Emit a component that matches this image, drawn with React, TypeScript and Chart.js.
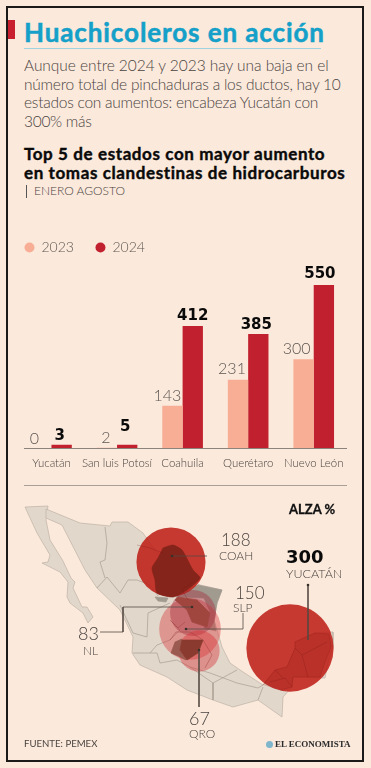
import React, { useEffect, useRef } from "react";
import { Chart, registerables } from "chart.js";
Chart.register(...registerables);

const BG = "#fbe9dc";
const categories = ["Yucatán", "San luis Potosí", "Coahuila", "Querétaro", "Nuevo León"];
const values2023 = [0, 2, 143, 231, 300];
const values2024 = [3, 5, 412, 385, 550];
const labelShift2023 = [[-7, 9], [-1, 10], [-5, 10.5], [-6, 11], [-7, 10]];
const labelShift2024 = [[-2, 9], [-2, 17.5], [0, 10], [-2, 9], [-4, 11]];

const rises = [300, 188, 150, 83, 67];
const riseX = [290, 171, 190, 193, 199];
const riseY = [648, 562, 629, 613, 651];
const riseColors = ["rgba(190,32,24,0.88)", "rgba(190,32,24,0.88)", "rgba(218,60,62,0.42)", "rgba(165,40,60,0.4)", "rgba(218,48,52,0.42)"];

type P = [number, number];
const baja: P[] = [[25,507],[48,506],[46,520],[50,540],[63,561],[71,578],[75,582],[73,588],[82,607],[87,607],[93,617],[88,623],[83,613],[70,603],[67,597],[68,582],[60,572],[42,563],[48,562],[50,555],[37,533],[25,507]];
const mainland: P[] = [[46,509],[80,523],[110,526],[112,522],[128,522],[143,533],[155,550],[166,560],[180,575],[200,585],[222,590],[217,603],[214,620],[218,633],[222,647],[230,663],[243,672],[263,685],[275,670],[287,667],[295,648],[295,642],[315,633],[333,632],[333,647],[328,662],[325,678],[293,677],[292,687],[283,697],[282,717],[258,700],[233,707],[213,700],[187,690],[167,677],[140,665],[132,653],[133,637],[120,610],[97,588],[85,570],[62,525],[46,518],[46,509]];
const tamaulipas: P[] = [[198,585],[222,590],[217,603],[214,620],[216,631],[204,628],[210,612],[204,598],[176,597],[198,585]];
const coahFoot: P[] = [[155,597],[168,598],[166,602],[158,601],[155,597]];
const nuevoLeon: P[] = [[178,597],[197,600],[210,613],[207,627],[192,622],[187,610],[175,600],[178,597]];
const guanajuato: P[] = [[175,642],[182,639],[180,650],[186,660],[178,656],[171,653],[175,642]];
const queretaro: P[] = [[182,640],[203,640],[198,653],[187,660],[180,650],[182,640]];
const coahuila: P[] = [[163,548],[173,545],[182,550],[193,570],[200,578],[187,590],[173,597],[157,593],[155,580],[152,568],[158,558],[163,548]];
const peninsula: P[] = [[263,685],[275,670],[287,667],[295,648],[295,642],[315,633],[329,634],[331,647],[325,662],[320,677],[293,677],[292,687],[280,690]];
const borders: P[][] = [
  [[105,527],[107,543],[105,560],[100,562],[105,578]],
  [[97,588],[107,577],[120,593],[128,580],[137,580],[150,585],[158,596]],
  [[120,605],[133,633],[147,637],[148,613],[170,603]],
  [[133,653],[157,653],[160,663],[177,660],[190,667],[213,683],[213,700]],
  [[172,622],[180,630],[170,640],[157,645],[150,653]],
  [[190,667],[210,673],[237,683],[258,688],[263,685]],
  [[213,683],[237,670]],
  [[263,687],[258,700]],
];
const innerBorders: P[][] = [
  [[295,648],[302,655],[308,677]],
  [[302,655],[327,642]],
  [[270,682],[285,678],[292,687]],
  [[275,670],[283,678]],
  [[137,545],[150,548],[163,553]],
  [[193,582],[182,590],[188,600]],
];
const pinkBorders: P[][] = [
  [[170,620],[178,628],[185,622]],
  [[170,640],[176,632],[190,632],[203,640]],
  [[203,640],[212,655],[205,668]],
];
const leaders: P[][] = [
  [[308,585],[308,640]],
  [[172,556],[207,556]],
  [[192,607],[123,607],[123,632],[100,632]],
  [[186,629],[243,629],[243,613]],
  [[199,650],[199,707]],
];

const pts = (a: P[]) => a.map(([x, y]) => ({ x, y }));
const shape = (a: P[], fill: string, order: number, border = "#bdb2a5") => ({
  type: "line", data: pts(a), fill: "shape", backgroundColor: fill, borderColor: border,
  borderWidth: 0.7, pointRadius: 0, tension: 0, order,
});
const stroke = (a: P[], color: string, order: number) => ({
  type: "line", data: pts(a), borderColor: color, borderWidth: 0.7, pointRadius: 0, fill: false, order,
});

const T = ({ x, y, s, w = 300, c = "#4a443f", ls = 0, f = "Lato", st = 0, children }: any) => (
  <div style={{ position: "absolute", left: x, top: y, transform: "translateY(-50%)", font: `${w} ${s}px ${f}`, color: c, letterSpacing: ls, whiteSpace: "nowrap", lineHeight: 1, WebkitTextStroke: st ? `${st}px ${c}` : undefined }}>{children}</div>
);
const Rule = ({ x, y, w, h = 1, c }: any) => <div style={{ position: "absolute", left: x, top: y, width: w, height: h, background: c }} />;

const barLabels = {
  id: "barLabels",
  afterDatasetsDraw(chart: any) {
    const ctx = chart.ctx;
    ctx.save();
    ctx.textAlign = "center";
    ctx.textBaseline = "middle";
    chart.data.datasets.forEach((ds: any, i: number) => {
      chart.getDatasetMeta(i).data.forEach((el: any, j: number) => {
        const [dx, dy] = (i === 0 ? labelShift2023 : labelShift2024)[j];
        ctx.font = i === 0 ? "300 16px Lato" : "700 15px 'DejaVu Sans'";
        ctx.fillStyle = i === 0 ? "#5c5650" : "#0a0a0a";
        ctx.fillText(String(ds.data[j]), el.x + dx, el.y - dy);
      });
    });
    ctx.restore();
  },
};

export default function App() {
  const barRef = useRef<HTMLCanvasElement>(null);
  const mapRef = useRef<HTMLCanvasElement>(null);
  useEffect(() => {
    const bar = new Chart(barRef.current!, {
      type: "bar",
      data: {
        labels: categories,
        datasets: [
          { label: "2023", data: values2023, backgroundColor: "#f8ae95", categoryPercentage: 0.62, barPercentage: 1 },
          { label: "2024", data: values2024, backgroundColor: "#c1212e", categoryPercentage: 0.62, barPercentage: 1, minBarLength: 3.5 },
        ],
      } as any,
      options: {
        responsive: false, animation: false,
        layout: { padding: { left: 0, right: 24.5, top: 0, bottom: 0 } },
        plugins: {
          tooltip: { enabled: false },
          legend: {
            position: "top", align: "start",
            labels: { usePointStyle: true, pointStyle: "circle", boxHeight: 7, pointStyleWidth: 10, padding: 21.5, color: "#5c5650", font: { family: "Lato", size: 14, weight: "300" } },
          },
        },
        scales: {
          x: { grid: { display: false }, border: { display: false }, ticks: { padding: 0, color: "#4a443f", maxRotation: 0, autoSkip: false, font: { family: "Lato", size: 11.4, weight: "300" } } },
          y: {
            min: 0, max: 619, grid: { display: false }, border: { display: false }, ticks: { display: false },
            afterFit: (s: any) => { s.width = 15.7; },
          },
        },
      } as any,
      plugins: [barLabels],
    });
    const map = new Chart(mapRef.current!, {
      type: "line",
      data: {
        datasets: [
          ...leaders.map((l) => ({ type: "line", data: pts(l), borderColor: "#544a43", borderWidth: 0.8, pointRadius: (c: any) => (c.dataIndex === 0 ? 1.3 : 0), pointBackgroundColor: "#3a302a", pointBorderWidth: 0, fill: false, order: 0 })),
          ...innerBorders.map((l) => stroke(l, "rgba(115,22,16,0.35)", 0.5)),
          ...pinkBorders.map((l) => stroke(l, "rgba(150,60,55,0.6)", 0.5)),
          { ...shape(coahuila, "#85241a", 0.7, "#85241a"), tension: 0.2 },
          shape(queretaro, "#8a3a2e", 0.7, "#8a3a2e"),
          shape(guanajuato, "#9a5a50", 0.7, "#9a5a50"),
          shape(nuevoLeon, "#a0463f", 0.7, "#a0463f"),
          shape(peninsula, "rgba(150,25,20,0.18)", 0.8, "rgba(115,22,16,0.3)"),
          {
            type: "bubble",
            data: rises.map((v, i) => ({ x: riseX[i], y: riseY[i], r: 2.52 * Math.sqrt(v) })),
            backgroundColor: riseColors, borderWidth: 0, order: 1,
          },
          ...borders.map((l) => stroke(l, "#a99e91", 2)),
          shape(coahFoot, "#a19a8e", 3, "#a19a8e"),
          shape(tamaulipas, "#a19a8e", 3, "#a19a8e"),
          shape(mainland, "#e1d7cb", 4),
          shape(baja, "#e1d7cb", 4),
        ],
      } as any,
      options: {
        responsive: false, animation: false,
        layout: { padding: 0, autoPadding: false },
        plugins: { legend: { display: false }, tooltip: { enabled: false } },
        scales: {
          x: { type: "linear", display: false, min: 0, max: 371 },
          y: { type: "linear", display: false, min: 490, max: 768, reverse: true },
        },
      } as any,
    });
    return () => { bar.destroy(); map.destroy(); };
  }, []);
  return (
    <div style={{ position: "absolute", left: 0, top: 0, width: 371, height: 768, background: BG, overflow: "hidden" }}>
      <style>{`body{margin:0;background:${BG}}`}</style>
      <div style={{ position: "absolute", left: 6, top: 6, width: 354, height: 752, border: "2px solid #1b1a19" }} />
      <Rule x={8} y={20} w={7} h={19} c="#c8202f" />
      <T x={24} y={32} s={26} w={700} c="#14a0c8" ls={0.9} st={0.5}>Huachicoleros en acción</T>
      <Rule x={24} y={48} w={297} c="#9fd3df" />
      <T x={24} y={66} s={15.5} ls={-0.05}>Aunque entre 2024 y 2023 hay una baja en el</T>
      <T x={24} y={84.5} s={15.5} ls={-0.23}>número total de pinchaduras a los ductos, hay 10</T>
      <T x={24} y={103} s={15.5} ls={-0.25}>estados con aumentos: encabeza Yucatán con</T>
      <T x={24} y={122} s={15.5} ls={-0.3}>300% más</T>
      <T x={24} y={153} s={17} w={700} c="#0a0a0a" ls={0.6} st={0.4}>Top 5 de estados con mayor aumento</T>
      <T x={24} y={172} s={17} w={700} c="#0a0a0a" ls={0.6} st={0.4}>en tomas clandestinas de hidrocarburos</T>
      <Rule x={26} y={185} w={1} h={13} c="#555" />
      <T x={34} y={191} s={12}>ENERO AGOSTO</T>
      <canvas ref={barRef} width={368} height={251} style={{ position: "absolute", left: 2.5, top: 219 }} />
      <Rule x={24} y={448} w={323} c="#8c847a" />
      <Rule x={24} y={485} w={323} c="#a79f95" />
      <canvas ref={mapRef} width={371} height={278} style={{ position: "absolute", left: 0, top: 490 }} />
      <T x={289} y={509} s={13} w={700} c="#111" st={0.3}>ALZA %</T>
      <T x={221} y={539} s={17}>188</T>
      <T x={219} y={556} s={12}>COAH</T>
      <T x={286} y={557} s={18} w={700} f="'DejaVu Sans'" c="#0a0a0a">300</T>
      <T x={286} y={574} s={12.5}>YUCATÁN</T>
      <T x={235} y={592} s={17}>150</T>
      <T x={233} y={608} s={12}>SLP</T>
      <T x={78} y={633} s={18}>83</T>
      <T x={83} y={651} s={12}>NL</T>
      <T x={189} y={718} s={18}>67</T>
      <T x={189} y={734} s={12}>QRO</T>
      <T x={24} y={744} s={9.6} w={400}>FUENTE: PEMEX</T>
      <div style={{ position: "absolute", left: 266, top: 741, width: 7, height: 7, borderRadius: 4, background: "#7fb6cc" }} />
      <T x={275} y={744} s={9} w={700} f="'Liberation Serif'" c="#2a2a2a">EL ECONOMISTA</T>
    </div>
  );
}
